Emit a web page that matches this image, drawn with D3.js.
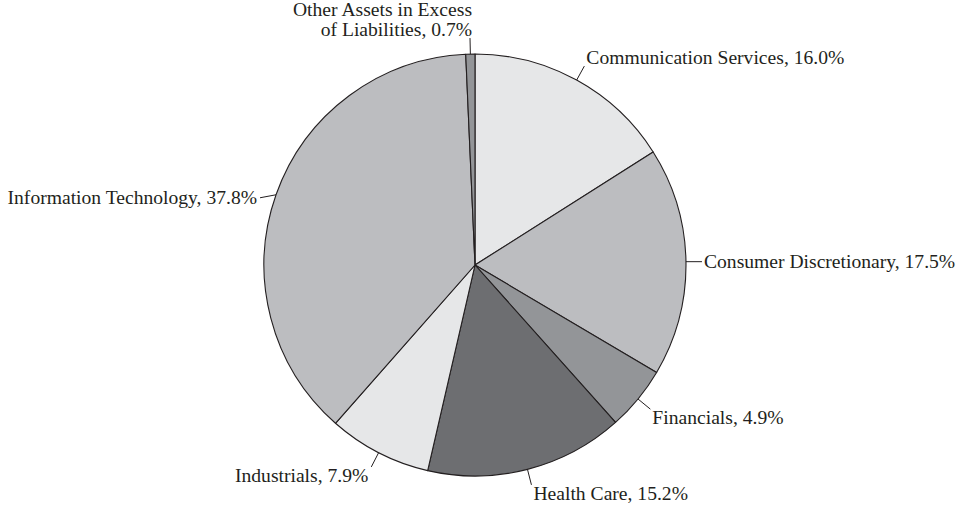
<!DOCTYPE html>
<html>
<head>
<meta charset="utf-8">
<script src="https://cdn.jsdelivr.net/npm/d3@7"></script>
<style>
  body { margin: 0; background: #fff; }
  text { font-family: "Liberation Serif", "Times New Roman", serif; fill: #231f20; }
</style>
</head>
<body>
<div id="chart-area"></div>
<script>
/* Data */
var sectors = ["Communication Services", "Consumer Discretionary", "Financials", "Health Care",
               "Industrials", "Information Technology", "Other Assets in Excess of Liabilities"];
var weights = [16.0, 17.5, 4.9, 15.2, 7.9, 37.8, 0.7];
var labelLines = [
  ["Communication Services, 16.0%"],
  ["Consumer Discretionary, 17.5%"],
  ["Financials, 4.9%"],
  ["Health Care, 15.2%"],
  ["Industrials, 7.9%"],
  ["Information Technology, 37.8%"],
  ["Other Assets in Excess", "of Liabilities, 0.7%"]
];
var fills = ["#e6e7e8", "#bcbdc0", "#939598", "#6d6e71", "#e6e7e8", "#bcbdc0", "#939598"];

/* Canvas */
var width = 971, height = 508;
var cx = 475, cy = 265, radius = 211;
var fontSize = 19.6;
var leaderLen = 16;

var svg = d3.select("#chart-area").append("svg")
  .attr("width", width)
  .attr("height", height);

var g = svg.append("g")
  .attr("transform", "translate(" + cx + "," + cy + ")");

var data = sectors.map(function(s, i) {
  return { name: s, value: weights[i], lines: labelLines[i], fill: fills[i] };
});

var pie = d3.pie().sort(null).value(function(d) { return d.value; });
var arc = d3.arc().innerRadius(0).outerRadius(radius);
var arcs = pie(data);

/* Slices */
g.selectAll("path.slice").data(arcs)
  .enter().append("path")
    .attr("class", "slice")
    .attr("d", arc)
    .attr("fill", function(d) { return d.data.fill; })
    .attr("stroke", "#231f20")
    .attr("stroke-width", 1.1)
    .attr("stroke-linejoin", "round");

/* Leader lines + labels */
function midAngle(d) { return (d.startAngle + d.endAngle) / 2; }
function pt(a, r) { return [r * Math.sin(a), -r * Math.cos(a)]; }

arcs.forEach(function(d) {
  var a = midAngle(d);
  var s = Math.sin(a), c = Math.cos(a);
  var right = s > 0;
  var p0 = pt(a, radius);
  var p1 = pt(a, radius + leaderLen);
  // side labels get a flat leader
  if (Math.abs(c) < 0.4) p1 = [p0[0] + (right ? 1 : -1) * leaderLen, p0[1] + (right ? 0 : 3)];

  g.append("line")
    .attr("x1", p0[0]).attr("y1", p0[1])
    .attr("x2", p1[0]).attr("y2", p1[1])
    .attr("stroke", "#231f20")
    .attr("stroke-width", 1);

  var n = d.data.lines.length;
  var lh = 20;
  var baseY;
  if (c > 0.4) baseY = p1[1] - 2 - (n - 1) * lh;
  else if (c < -0.4) baseY = p1[1] + 15;
  else baseY = p1[1] + 6;

  var dx = right ? 2 : -3;
  if (Math.abs(s) < 0.1) dx = 2;

  var t = g.append("text")
    .attr("text-anchor", right ? "start" : "end")
    .attr("font-size", fontSize);
  d.data.lines.forEach(function(line, i) {
    t.append("tspan")
      .attr("x", p1[0] + dx)
      .attr("y", baseY + i * lh)
      .text(line);
  });
});
</script>
</body>
</html>
